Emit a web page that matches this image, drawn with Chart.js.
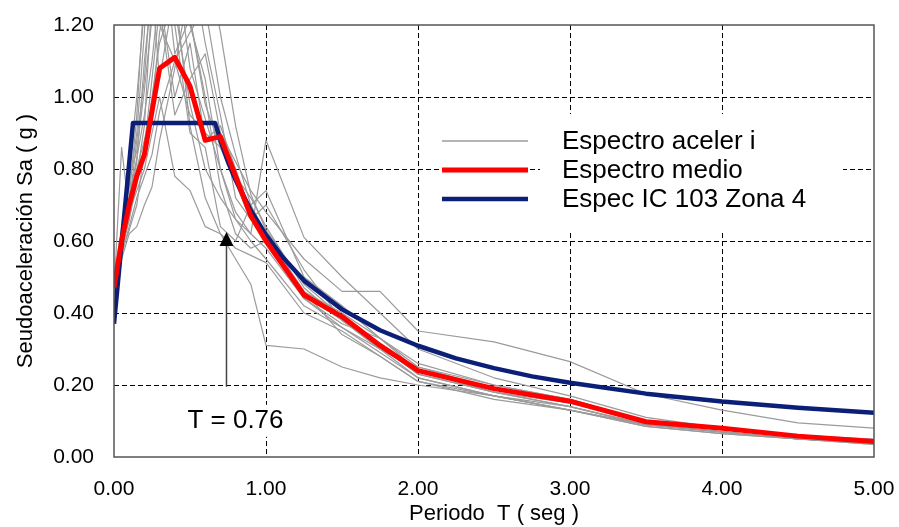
<!DOCTYPE html>
<html>
<head>
<meta charset="utf-8">
<script src="https://cdn.jsdelivr.net/npm/chart.js@4"></script>
<style>
  html, body { margin: 0; padding: 0; background: #fff; }
  #wrap { width: 899px; height: 527px; }
</style>
</head>
<body>
<div id="wrap"><canvas id="chart" width="899" height="527"></canvas></div>
<script>
// periodos (seg) de los registros y del espectro medio
const periods = [0, 0.05, 0.1, 0.15, 0.2, 0.25, 0.3, 0.4, 0.5, 0.6, 0.7, 0.8, 0.9, 1.0, 1.25, 1.5, 1.75, 2.0, 2.5, 3.0, 3.5, 4.0, 4.5, 5.0];

// espectro medio (g)
const espectroMedio = [0.47, 0.60, 0.70, 0.78, 0.84, 0.96, 1.08, 1.11, 1.03, 0.88, 0.89, 0.78, 0.67, 0.60, 0.45, 0.39, 0.31, 0.24, 0.19, 0.155, 0.098, 0.08, 0.058, 0.043];

// espectros de cada registro (g)
const registros = [
  [0.47, 0.60, 0.72, 0.95, 1.30, 1.45, 1.35, 1.25, 0.98, 0.80, 0.72, 0.66, 0.60, 0.55, 0.42, 0.36, 0.29, 0.22, 0.17, 0.14, 0.09, 0.07, 0.05, 0.04],
  [0.46, 0.86, 0.68, 0.78, 0.92, 1.28, 1.50, 1.12, 1.22, 0.98, 0.86, 0.76, 0.66, 0.62, 0.46, 0.40, 0.33, 0.25, 0.20, 0.16, 0.10, 0.08, 0.06, 0.045],
  [0.48, 0.55, 0.62, 0.64, 0.70, 0.75, 0.88, 1.08, 1.32, 1.38, 1.18, 0.92, 0.73, 0.63, 0.48, 0.39, 0.31, 0.23, 0.18, 0.15, 0.10, 0.08, 0.06, 0.045],
  [0.45, 0.57, 0.66, 0.80, 0.88, 0.98, 1.18, 1.40, 1.08, 0.94, 0.80, 0.66, 0.62, 0.88, 0.61, 0.50, 0.40, 0.30, 0.22, 0.17, 0.11, 0.08, 0.06, 0.05],
  [0.47, 0.62, 0.78, 0.85, 1.02, 1.22, 1.25, 0.95, 1.05, 1.12, 0.90, 0.82, 0.74, 0.68, 0.55, 0.46, 0.46, 0.35, 0.32, 0.265, 0.175, 0.13, 0.095, 0.08],
  [0.46, 0.58, 0.70, 0.82, 1.10, 1.30, 1.05, 1.30, 0.92, 0.72, 0.62, 0.55, 0.48, 0.31, 0.30, 0.25, 0.22, 0.20, 0.17, 0.13, 0.09, 0.07, 0.05, 0.04],
  [0.49, 0.64, 0.75, 0.90, 1.18, 1.60, 1.40, 1.50, 1.20, 1.05, 0.80, 0.68, 0.62, 0.58, 0.44, 0.36, 0.30, 0.24, 0.19, 0.15, 0.10, 0.08, 0.06, 0.045],
  [0.47, 0.60, 0.68, 0.74, 0.80, 0.90, 1.00, 0.78, 0.74, 0.64, 0.62, 0.58, 0.56, 0.54, 0.40, 0.35, 0.28, 0.21, 0.17, 0.13, 0.09, 0.07, 0.05, 0.04],
  [0.46, 0.57, 0.63, 0.70, 0.85, 1.00, 1.15, 1.28, 1.40, 1.15, 0.95, 0.72, 0.66, 0.70, 0.52, 0.38, 0.30, 0.25, 0.19, 0.15, 0.10, 0.08, 0.06, 0.04],
  [0.48, 0.61, 0.72, 0.83, 0.95, 1.10, 1.30, 1.20, 0.90, 0.86, 0.64, 0.60, 0.70, 0.74, 0.50, 0.42, 0.33, 0.26, 0.20, 0.16, 0.10, 0.08, 0.06, 0.045],
  [0.47, 0.63, 0.80, 1.00, 1.25, 1.40, 1.20, 1.10, 0.95, 0.90, 0.86, 0.78, 0.72, 0.64, 0.47, 0.38, 0.30, 0.22, 0.17, 0.13, 0.085, 0.065, 0.05, 0.035],
  [0.45, 0.56, 0.64, 0.72, 0.78, 0.84, 0.96, 1.10, 1.18, 1.25, 1.00, 0.84, 0.70, 0.62, 0.44, 0.37, 0.33, 0.24, 0.18, 0.14, 0.09, 0.07, 0.05, 0.04],
  [0.47, 0.59, 0.66, 0.76, 0.86, 1.05, 1.25, 1.35, 1.22, 1.00, 0.75, 0.62, 0.58, 0.60, 0.46, 0.34, 0.28, 0.21, 0.16, 0.13, 0.085, 0.065, 0.05, 0.035],
  [0.46, 0.60, 0.70, 0.88, 1.05, 1.35, 1.28, 1.00, 1.15, 0.88, 0.92, 0.80, 0.68, 0.60, 0.45, 0.38, 0.31, 0.23, 0.18, 0.14, 0.09, 0.07, 0.05, 0.04]
];

// espectro de diseño IC 103 zona 4
const icPeriods = [0, 0.125, 0.665, 0.7, 0.75, 0.8, 0.9, 1.0, 1.1, 1.25, 1.5, 1.75, 2.0, 2.25, 2.5, 2.75, 3.0, 3.5, 4.0, 4.5, 5.0];
const icValues = [0.37, 0.928, 0.928, 0.88, 0.82, 0.77, 0.685, 0.617, 0.56, 0.49, 0.41, 0.352, 0.309, 0.274, 0.247, 0.224, 0.206, 0.176, 0.154, 0.137, 0.123];

// etiquetas
const legendLabels = ['Espectro aceler i', 'Espectro medio', 'Espec IC 103 Zona 4'];
const xTitle = 'Periodo  T ( seg )';
const yTitle = 'Seudoaceleración Sa ( g )';

// anotación del periodo
const arrowT = [0.74];
const arrowSa = [0.195, 0.625];
const arrowLabel = 'T = 0.76';

const GRAY = '#9b9b9b';
const RED = '#ff0000';
const BLUE = '#0b1f78';

const toPoints = (xs, ys) => xs.map((x, i) => ({ x: x, y: ys[i] }));

const datasets = [
  {
    label: legendLabels[1],
    data: toPoints(periods, espectroMedio),
    borderColor: RED,
    borderWidth: 5,
    order: 0
  },
  {
    label: legendLabels[2],
    data: toPoints(icPeriods, icValues),
    borderColor: BLUE,
    borderWidth: 4.5,
    order: 1
  },
  ...registros.map((r, i) => ({
    label: legendLabels[0] + ' ' + (i + 1),
    data: toPoints(periods, r),
    borderColor: GRAY,
    borderWidth: 1.2,
    order: 2
  }))
];

const isEdge = (v, a, b) => Math.abs(v - a) < 1e-6 || Math.abs(v - b) < 1e-6;

// marco, leyenda y flecha
const extras = {
  id: 'extras',
  afterDatasetsDraw(chart) {
    const ctx = chart.ctx;
    const area = chart.chartArea;
    const xs = chart.scales.x;
    const ys = chart.scales.y;
    ctx.save();

    // leyenda
    ctx.fillStyle = '#fff';
    ctx.fillRect(540, 114, 303, 116);
    const rows = [
      { c: GRAY, w: 1.5, y: 141 },
      { c: RED, w: 5, y: 170 },
      { c: BLUE, w: 4.5, y: 199 }
    ];
    rows.forEach((r, i) => {
      ctx.strokeStyle = r.c;
      ctx.lineWidth = r.w;
      ctx.beginPath();
      ctx.moveTo(442, r.y);
      ctx.lineTo(528, r.y);
      ctx.stroke();
      ctx.fillStyle = '#000';
      ctx.font = '26px "Liberation Sans", Arial, sans-serif';
      ctx.textBaseline = 'middle';
      ctx.textAlign = 'left';
      ctx.fillText(legendLabels[i], 562, r.y + 1);
    });

    // flecha
    const ax = xs.getPixelForValue(arrowT[0]);
    const y0 = ys.getPixelForValue(arrowSa[0]);
    const y1 = ys.getPixelForValue(arrowSa[1]);
    ctx.strokeStyle = '#444';
    ctx.lineWidth = 1.5;
    ctx.beginPath();
    ctx.moveTo(ax, y0);
    ctx.lineTo(ax, y1 + 12);
    ctx.stroke();
    ctx.fillStyle = '#000';
    ctx.beginPath();
    ctx.moveTo(ax, y1);
    ctx.lineTo(ax - 7, y1 + 14);
    ctx.lineTo(ax + 7, y1 + 14);
    ctx.closePath();
    ctx.fill();
    ctx.font = '26px "Liberation Sans", Arial, sans-serif';
    ctx.textAlign = 'center';
    ctx.textBaseline = 'middle';
    const tw = ctx.measureText(arrowLabel).width;
    ctx.fillStyle = '#fff';
    ctx.fillRect(ax + 9 - tw / 2 - 4, y0 + 18, tw + 8, 32);
    ctx.fillStyle = '#000';
    ctx.fillText(arrowLabel, ax + 9, y0 + 34);

    // marco
    ctx.strokeStyle = '#555';
    ctx.lineWidth = 1.5;
    ctx.strokeRect(area.left, area.top, area.right - area.left, area.bottom - area.top);
    ctx.restore();
  }
};

const tickFont = { family: '"Liberation Sans", Arial, sans-serif', size: 21 };
const titleFont = { family: '"Liberation Sans", Arial, sans-serif', size: 22 };

new Chart(document.getElementById('chart'), {
  type: 'line',
  data: { datasets: datasets },
  options: {
    responsive: false,
    animation: false,
    layout: { padding: { left: 0, right: 25, top: 25, bottom: 0 } },
    elements: {
      point: { radius: 0 },
      line: { tension: 0, borderJoinStyle: 'round', fill: false }
    },
    plugins: {
      legend: { display: false },
      tooltip: { enabled: false }
    },
    scales: {
      x: {
        type: 'linear',
        min: 0,
        max: 5,
        afterFit: (s) => { s.height = 70; s.paddingLeft = 0; s.paddingRight = 0; },
        ticks: {
          stepSize: 1,
          padding: 20,
          color: '#000',
          font: tickFont,
          callback: (v) => v.toFixed(2)
        },
        grid: {
          drawTicks: false,
          color: (c) => isEdge(c.tick.value, 0, 5) ? 'rgba(0,0,0,0)' : '#000',
          lineWidth: 1
        },
        border: { display: false, dash: [5, 3] },
        title: {
          display: true,
          text: xTitle,
          color: '#000',
          font: titleFont,
          padding: { top: 0, bottom: 0 }
        }
      },
      y: {
        min: 0,
        max: 1.2,
        afterFit: (s) => { s.width = 114; s.paddingTop = 0; s.paddingBottom = 0; },
        ticks: {
          stepSize: 0.2,
          padding: 20,
          color: '#000',
          font: tickFont,
          callback: (v) => v.toFixed(2)
        },
        grid: {
          drawTicks: false,
          color: (c) => isEdge(c.tick.value, 0, 1.2) ? 'rgba(0,0,0,0)' : '#000',
          lineWidth: 1
        },
        border: { display: false, dash: [5, 3] },
        title: {
          display: true,
          text: yTitle,
          color: '#000',
          font: titleFont,
          padding: { top: 13, bottom: 0 }
        }
      }
    }
  },
  plugins: [extras]
});
</script>
</body>
</html>
